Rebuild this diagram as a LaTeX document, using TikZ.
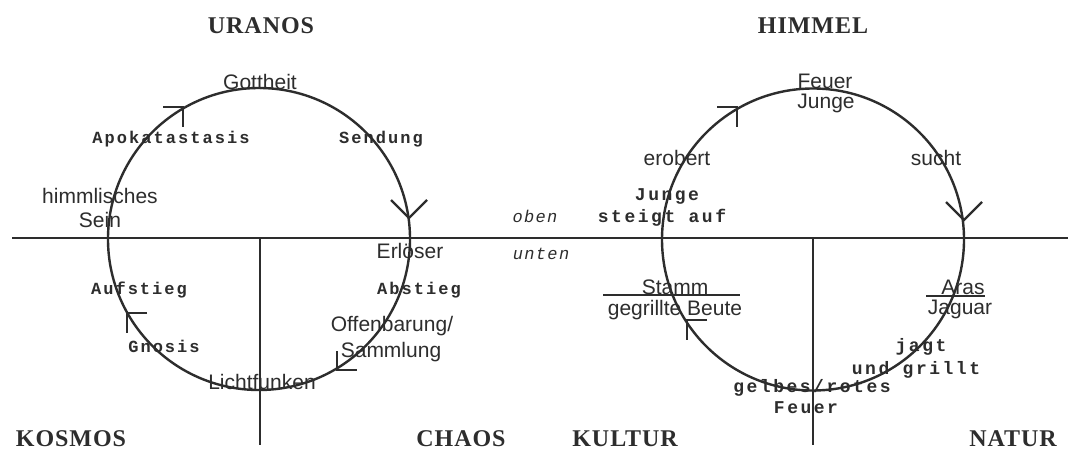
\documentclass[tikz,border=0pt]{standalone}
\usepackage{fontspec}
\setmainfont{Liberation Sans}
\newfontfamily\titlefont[LetterSpace=4]{Liberation Serif}
\newfontfamily\monofont[LetterSpace=12]{Liberation Mono}
\newfontfamily\monofontw[LetterSpace=14]{Liberation Mono}
\newfontfamily\italmono[LetterSpace=8]{Liberation Mono}
\definecolor{ink}{RGB}{45,45,45}
\tikzset{
  line/.style={draw=ink, line width=2.4pt},
  ring/.style={circle, draw=ink, line width=2.4pt, minimum size=302pt, inner sep=0pt},
  title/.style={font=\titlefont\bfseries\fontsize{24}{24}\selectfont, text=ink, anchor=base, inner sep=0pt},
  lab/.style={font=\fontsize{21}{21}\selectfont, text=ink, anchor=base, inner sep=0pt},
  mono/.style={font=\monofont\bfseries\fontsize{17}{17}\selectfont, text=ink, anchor=base, inner sep=0pt},
  monow/.style={font=\monofontw\bfseries\fontsize{18}{18}\selectfont, text=ink, anchor=base, inner sep=0pt},
  ital/.style={font=\italmono\itshape\fontsize{17}{17}\selectfont, text=ink, anchor=base, inner sep=0pt},
}
\begin{document}
\begin{tikzpicture}[x=1pt,y=-1pt]
\useasboundingbox[fill=white] (0,0) rectangle (1070,450);
% titles
\node[title] (uranos) at (261,33) {URANOS};
\node[title] (himmel) at (813,33) {HIMMEL};
\node[title] (kosmos) at (71,446) {KOSMOS};
\node[title] (chaos) at (461,446) {CHAOS};
\node[title] (kultur) at (625,446) {KULTUR};
\node[title] (natur) at (1013,446) {NATUR};
% axes
\coordinate (hl) at (12,238);
\coordinate (hr) at (1068,238);
\coordinate (v1t) at (260,238);
\coordinate (v1b) at (260,445);
\coordinate (v2t) at (813,238);
\coordinate (v2b) at (813,445);
\draw[line] (hl) -- (hr);
\draw[line] (v1t) -- (v1b);
\draw[line] (v2t) -- (v2b);
% circles
\node[ring] (C1) at (259,239) {};
\node[ring] (C2) at (813,239.5) {};
% left circle arrows
\draw[line] (163,107) -- (183,107) -- (183,127);
\draw[line] (391,200) -- (409,218) -- (427,200);
\draw[line] (337,351) -- (337,370) -- (357,370);
\draw[line] (147,313) -- (127,313) -- (127,333);
% right circle arrows
\draw[line] (717,107) -- (737,107) -- (737,127);
\draw[line] (946,202) -- (964,220) -- (982,202);
\draw[line] (707,320) -- (687,320) -- (687,340);
% separator lines
\draw[line, line width=2pt] (603,295) -- (740,295);
\draw[line, line width=2pt] (926,296) -- (985,296);
% left labels
\node[lab] (gottheit) at (260,89) {Gottheit};
\node[lab] (himml) at (100,203) {himmlisches};
\node[lab] (sein) at (100,227) {Sein};
\node[lab] (erloeser) at (410,258) {Erlöser};
\node[lab] (offenb) at (392,331) {Offenbarung/};
\node[lab] (samml) at (391,357) {Sammlung};
\node[lab] (licht) at (262,389) {Lichtfunken};
\node[mono] (apok) at (171,143) {Apokatastasis};
\node[mono] (send) at (381,143) {Sendung};
\node[mono] (aufst) at (139,294) {Aufstieg};
\node[mono] (abst) at (419,294) {Abstieg};
\node[mono] (gnosis) at (164,352) {Gnosis};
% middle
\node[ital] (oben) at (535,222) {oben};
\node[ital] (unten) at (541,259) {unten};
% right labels
\node[lab] (feuer) at (825,88) {Feuer};
\node[lab] (junge) at (826,108) {Junge};
\node[lab] (erobert) at (677,165) {erobert};
\node[lab] (sucht) at (936,165) {sucht};
\node[lab] (stamm) at (675,294) {Stamm};
\node[lab] (beute) at (675,315) {gegrillte Beute};
\node[lab] (aras) at (963,294) {Aras};
\node[lab] (jaguar) at (960,314) {Jaguar};
\node[monow] (jungem) at (667,200) {Junge};
\node[monow] (steigt) at (662,222) {steigt auf};
\node[monow] (jagt) at (921,351) {jagt};
\node[monow] (grillt) at (916,374) {und grillt};
\node[monow] (gelbes) at (812,392) {gelbes/rotes};
\node[monow] (feuerm) at (806,413) {Feuer};
\end{tikzpicture}
\end{document}
